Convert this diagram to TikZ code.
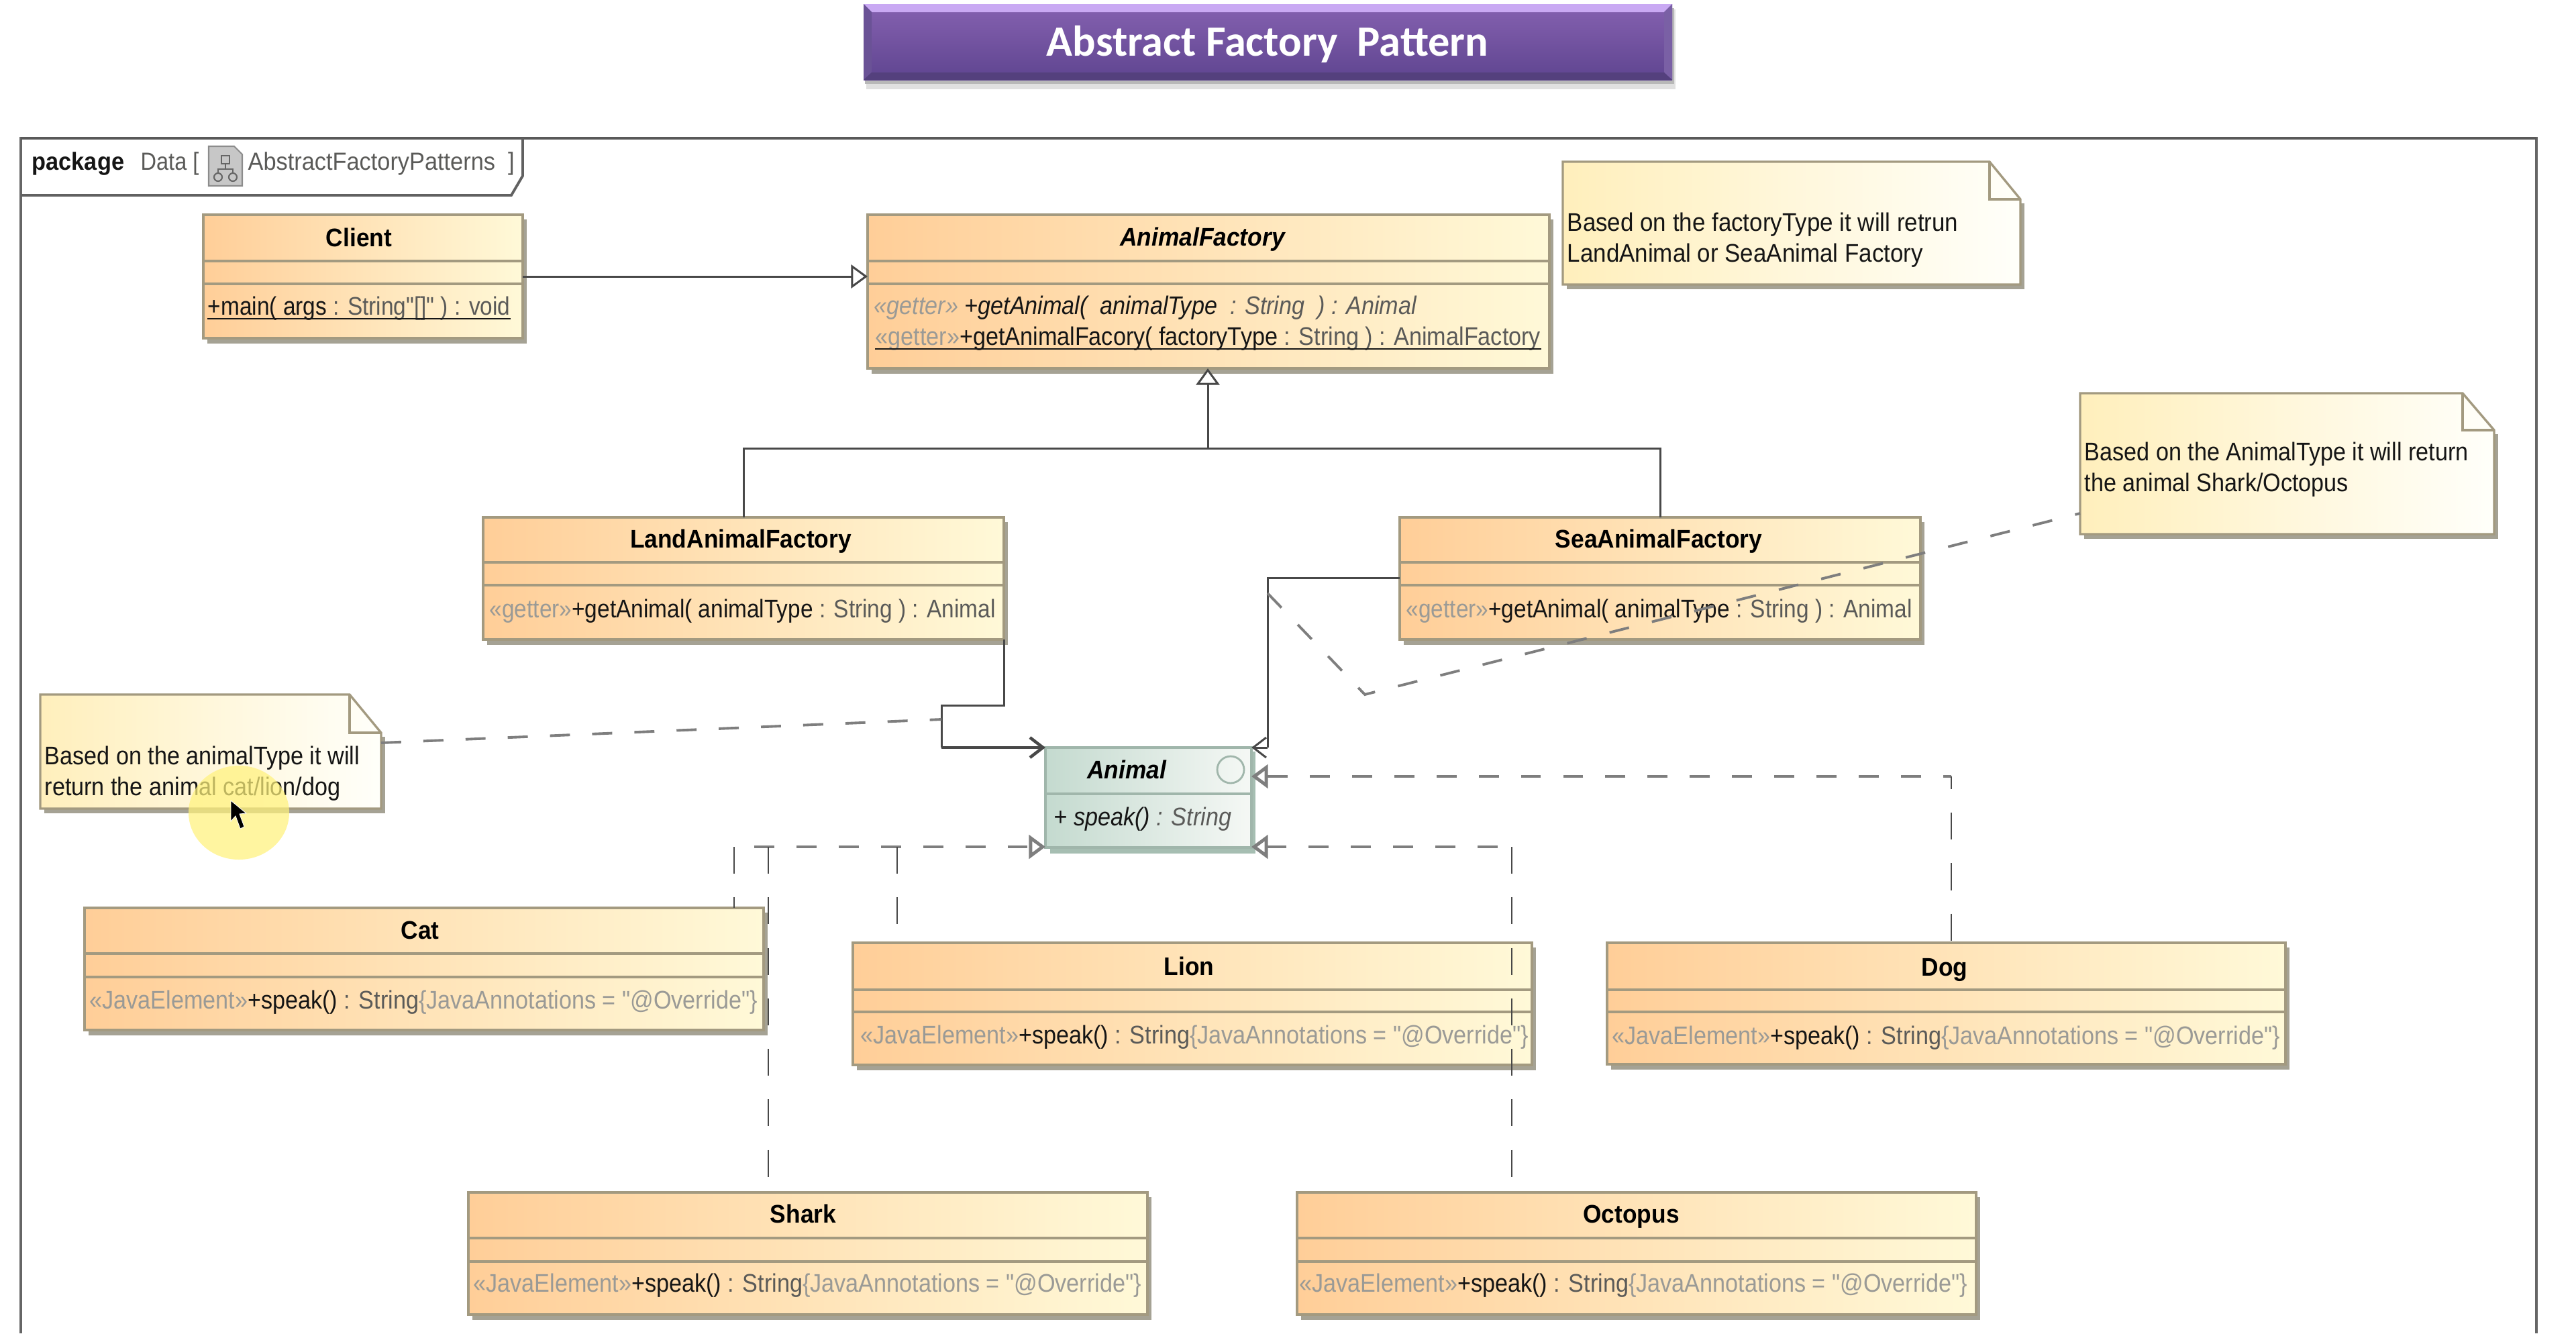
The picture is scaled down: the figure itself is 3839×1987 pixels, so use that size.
\documentclass[tikz,border=0pt]{standalone}
\usepackage{fontspec}
\usetikzlibrary{arrows.meta}
\newfontfamily\umlsans[FakeStretch=0.88]{Liberation Sans}
\newfontfamily\umlwide[FakeStretch=0.90]{Liberation Sans}
\newfontfamily\umlnotea[FakeStretch=0.92]{Liberation Sans}
\newfontfamily\umlpkg[FakeStretch=0.93]{Liberation Sans}
\newfontfamily\umlbold[FakeStretch=0.93]{Liberation Sans}
\newfontfamily\titlefont{Carlito}
\definecolor{orl}{HTML}{FFCE98}
\definecolor{orr}{HTML}{FFF9D8}
\definecolor{notel}{HTML}{FFEFBC}
\definecolor{noter}{HTML}{FFFFFA}
\definecolor{boxline}{HTML}{A39A80}
\definecolor{boxshadow}{HTML}{A5A294}
\definecolor{connc}{HTML}{484848}
\definecolor{dashc}{HTML}{7E7E7E}
\definecolor{ugray}{HTML}{9A9A96}
\definecolor{umid}{HTML}{5A5A58}
\definecolor{udark}{HTML}{151515}
\definecolor{ifl}{HTML}{C4DACF}
\definecolor{ifr}{HTML}{F5F8F5}
\definecolor{ifline}{HTML}{A0B6AB}
\definecolor{ifshadow}{HTML}{A6BEB2}
\definecolor{bartop}{HTML}{8561B0}
\definecolor{barbot}{HTML}{5F4590}
\definecolor{barhi}{HTML}{C9A9F3}
\definecolor{barleft}{HTML}{6A5296}
\definecolor{barright}{HTML}{7A60A5}
\definecolor{barlow}{HTML}{54407D}
\definecolor{spot}{HTML}{FFF27C}
\newcommand\ugr[1]{\textcolor{ugray}{#1}}
\newcommand\umd[1]{\textcolor{umid}{#1}}
\newcommand\udk[1]{\textcolor{udark}{#1}}
\tikzset{
  x=0.01cm,y=-0.01cm,
  classbox/.style={rectangle,draw=boxline,line width=0.95pt,left color=orl,right color=orr,anchor=north west,inner sep=0pt,outer sep=0pt},
  ifacebox/.style={rectangle,draw=ifline,line width=1.1pt,left color=ifl,right color=ifr,anchor=north west,inner sep=0pt,outer sep=0pt},
  divider/.style={draw=boxline,line width=0.95pt},
  shadowfill/.style={fill=boxshadow},
  notebox/.style={draw=boxline,line width=0.95pt,left color=notel,right color=noter},
  titletext/.style={anchor=base,inner sep=0pt,font=\umlbold\fontsize{10.8}{13.1}\selectfont\bfseries,text=black},
  rowtext/.style={anchor=base west,inner sep=0pt,font=\umlsans\fontsize{10.8}{13.1}\selectfont},
  widerow/.style={anchor=base west,inner sep=0pt,font=\umlwide\fontsize{10.8}{13.1}\selectfont},
  notetext/.style={anchor=west,align=left,inner sep=0pt,font=\umlwide\fontsize{10.8}{13.1}\selectfont,text=udark},
  solidconn/.style={draw=connc,line width=0.85pt},
  hdash/.style={draw=dashc,line width=1.4pt,dash pattern=on 8.5pt off 9.4pt},
  vdash/.style={draw=connc,line width=0.7pt,dash pattern=on 11.4pt off 10pt},
  ddash/.style={draw=dashc,line width=1.1pt,dash pattern=on 8.5pt off 9.4pt},
  underl/.style={draw=udark,line width=0.6pt},
  hollow/.style={-{Triangle[open,fill=white,length=7pt,width=10pt]}},
  openhead/.style={-{Straight Barb[length=5.5pt,width=8.5pt]}},
}
\newcommand\umlclass[7]{%
  \fill[shadowfill] (#2+6,#3+7) rectangle (#4+6,#5+8);
  \node[classbox,minimum width={(#4-#2)*0.01cm},minimum height={(#5-#3)*0.01cm}] (#1) at (#2,#3) {};
  \draw[divider] (#2,#6) -- (#4,#6);
  \draw[divider] (#2,#7) -- (#4,#7);
}
\newcommand\umlname[4]{\node[titletext] (#1) at (#2,#3+13) {#4};}
\newcommand\umlrow[4]{\node[rowtext] (#1) at (#2,#3+13) {#4};}
\newcommand\umlwrow[4]{\node[widerow] (#1) at (#2,#3+13) {#4};}
\newcommand\speakrow{\ugr{«JavaElement»}\udk{+speak()}\umd{\ : String}\ugr{\{JavaAnnotations = "@Override"\}}}
\newcommand\getterrow{\ugr{«getter»}\udk{+getAnimal( animalType}\umd{\ : String ) : Animal}}
\begin{document}
\begin{tikzpicture}
\useasboundingbox (0,0) rectangle (3839,1987);
\fill[white] (0,0) rectangle (3839,1987);

% title bar
\fill[black!12] (1291,14) rectangle (2497,133);
\fill[black!28] (1289,12) rectangle (2495,125);
\shade[top color=bartop,bottom color=barbot] (1287,6) rectangle (2492,119);
\fill[barhi] (1287,6) -- (2492,6) -- (2480,18) -- (1299,18) -- cycle;
\fill[barleft] (1287,6) -- (1299,18) -- (1299,108) -- (1287,119) -- cycle;
\fill[barright] (2492,6) -- (2480,18) -- (2480,108) -- (2492,119) -- cycle;
\fill[barlow] (1287,119) -- (1299,108) -- (2480,108) -- (2492,119) -- cycle;
\node[anchor=base,inner sep=0pt,text=white,font=\titlefont\fontsize{18.3}{20}\selectfont\bfseries] (titlebar) at (1889,83) {Abstract Factory\ \ Pattern};

% package frame
\draw[draw=black!60,line width=0.9pt] (31,1987) -- (31,206) -- (3780,206) -- (3780,1987);
\draw[draw=black!65,line width=1.3pt] (31,206) -- (3780,206);
\draw[draw=black!62,line width=1.1pt] (31,291) -- (762,291) -- (779,262) -- (779,206);
\node[anchor=base west,inner sep=0pt,font=\umlbold\fontsize{10.5}{13}\selectfont\bfseries,text=udark] (pkgword) at (47,253) {package};
\node[anchor=base west,inner sep=0pt,font=\umlsans\fontsize{10.5}{13}\selectfont,text=umid] (pkgdata) at (209,253) {Data [};
\node[anchor=base west,inner sep=0pt,font=\umlpkg\fontsize{10.5}{13}\selectfont,text=umid] (pkgname) at (369,253) {AbstractFactoryPatterns\ \ ]};
% diagram icon
\fill[black!22,draw=black!45,line width=0.6pt] (311,218) -- (349,218) -- (361,230) -- (361,277) -- (311,277) -- cycle;
\draw[black!60,line width=0.6pt] (336,244) -- (336,252) (325,258) -- (325,252) -- (347,252) -- (347,258);
\draw[black!60,line width=0.6pt] (330,232) rectangle (342,244);
\draw[black!60,line width=0.6pt] (325,264) circle (6) (347,264) circle (6);

% notes
\fill[shadowfill] (2335,431) rectangle (3017,303);
\path[notebox] (2329,241) -- (2965,241) -- (3011,297) -- (3011,424) -- (2329,424) -- cycle;
\draw[boxline,line width=0.95pt] (2965,241) -- (2965,297) -- (3011,297);
\node[notetext,font=\umlnotea\fontsize{10.8}{13.1}\selectfont] (note1) at (2335,358) {Based on the factoryType it will retrun\\LandAnimal or SeaAnimal Factory};

\fill[shadowfill] (3106,803) rectangle (3723,647);
\path[notebox] (3100,586) -- (3670,586) -- (3717,641) -- (3717,796) -- (3100,796) -- cycle;
\draw[boxline,line width=0.95pt] (3670,586) -- (3670,641) -- (3717,641);
\node[notetext] (note2) at (3106,700) {Based on the AnimalType it will return\\the animal Shark/Octopus};

\fill[shadowfill] (66,1212) rectangle (574,1098);
\path[notebox] (60,1035) -- (521,1035) -- (568,1092) -- (568,1205) -- (60,1205) -- cycle;
\draw[boxline,line width=0.95pt] (521,1035) -- (521,1092) -- (568,1092);
\node[notetext] (note3) at (66,1153) {Based on the animalType it will\\return the animal cat/lion/dog};

% classes
\umlclass{client}{303}{320}{779}{504}{389}{423}
\umlname{clientn}{535}{354}{Client}
\umlrow{clientr}{309}{456}{\udk{+main( args}\umd{\ : String"[]" ) : void}}

\umlclass{afac}{1293}{320}{2309}{549}{389}{423}
\umlname{afacn}{1792}{353}{\itshape AnimalFactory}
\umlwrow{afacr}{1302}{455}{\itshape\ugr{«getter»}\udk{\ +getAnimal(\ \ animalType}\umd{\ \ : String\ \ ) : Animal}}
\umlwrow{afacs}{1304}{501}{\ugr{«getter»}\udk{+getAnimalFacory( factoryType}\umd{\ : String ) : AnimalFactory}}

\umlclass{land}{720}{771}{1496}{953}{838}{872}
\umlname{landn}{1104}{803}{LandAnimalFactory}
\umlrow{landr}{729}{907}{\getterrow}

\umlclass{sea}{2086}{771}{2862}{953}{838}{872}
\umlname{sean}{2472}{803}{SeaAnimalFactory}
\umlrow{sear}{2095}{907}{\getterrow}

\umlclass{cat}{126}{1353}{1138}{1535}{1421}{1456}
\umlname{catn}{626}{1386}{Cat}
\umlwrow{catr}{133}{1490}{\speakrow}

\umlclass{lion}{1271}{1405}{2283}{1587}{1475}{1508}
\umlname{lionn}{1772}{1440}{Lion}
\umlwrow{lionr}{1282}{1542}{\speakrow}

\umlclass{dog}{2395}{1405}{3406}{1586}{1475}{1508}
\umlname{dogn}{2898}{1441}{Dog}
\umlwrow{dogr}{2402}{1543}{\speakrow}

\umlclass{shark}{698}{1777}{1710}{1959}{1845}{1880}
\umlname{sharkn}{1197}{1809}{Shark}
\umlwrow{sharkr}{705}{1912}{\speakrow}

\umlclass{octo}{1933}{1777}{2945}{1959}{1845}{1880}
\umlname{octon}{2431}{1809}{Octopus}
\umlwrow{octor}{1936}{1912}{\speakrow}

% underlined operations
\draw[underl] ([yshift=-1.7pt]clientr.base west) -- ([yshift=-1.7pt]clientr.base east);
\draw[underl] ([yshift=-1.7pt]afacs.base west) -- ([yshift=-1.7pt]afacs.base east);

% interface
\fill[fill=ifshadow] (1565,1120) rectangle (1871,1272);
\node[ifacebox,minimum width=3.07cm,minimum height=1.49cm] (animal) at (1558,1114) {};
\draw[ifline,line width=1pt] (1558,1183) -- (1865,1183);
\draw[ifline,line width=0.8pt] (1834,1147) circle (20);
\umlname{animaln}{1679}{1147}{\itshape Animal}
\umlwrow{animalr}{1570}{1217}{\itshape\udk{+ speak()}\umd{\ : String}}

% connector bend points
\coordinate (landbendA) at (1496,1051);
\coordinate (landbendB) at (1403,1051);
\coordinate (landbendC) at (1403,1114);
\coordinate (seabendA) at (1889,861);
\coordinate (seabendB) at (1889,1114);
\coordinate (gentrunk) at (1800,668);
\coordinate (catcorner) at (1094,1262);
\coordinate (sharkcorner) at (1145,1262);
\coordinate (lioncorner) at (1337,1262);
\coordinate (octocorner) at (2253,1262);
\coordinate (dogcorner) at (2908,1157);
\coordinate (leftarrow) at (1558,1262);
\coordinate (rightarrow) at (1865,1262);
\coordinate (dogarrow) at (1865,1157);
\coordinate (n3out) at (568,1107);
\coordinate (n3in) at (1403,1072);
\coordinate (n2out) at (3100,765);
\coordinate (n2kink) at (2034,1035);
\coordinate (n2end) at (1889,884);

% solid connectors
\draw[solidconn,hollow] (client.east) -- (client.east -| afac.west);
\draw[solidconn,hollow] (gentrunk) -- (gentrunk |- afac.south);
\draw[solidconn] (land.north) |- (gentrunk) -| (sea.north);
\draw[solidconn] (land.south east) -- (landbendA) -- (landbendB) -- (landbendC);
\draw[solidconn,line width=1.3pt,openhead] (landbendC) -- (animal.north west);
\draw[solidconn] (sea.west |- seabendA) -- (seabendA) -- (seabendB);
\draw[solidconn,openhead] (seabendB) -- (animal.north east);

% realisations
\draw[hdash,dash phase=9.4pt,hollow] (catcorner) -- (leftarrow);
\draw[hdash,dash phase=11.95pt,hollow] (octocorner) -- (rightarrow);
\draw[hdash,dash phase=5.1pt,hollow] (dogcorner) -- (dogarrow);
\draw[vdash] (catcorner) -- (catcorner |- cat.north);
\draw[vdash] (sharkcorner) -- (sharkcorner |- shark.north);
\draw[vdash] (lioncorner) -- (lioncorner |- lion.north);
\draw[vdash] (octocorner) -- (octocorner |- octo.north);
\draw[vdash,dash phase=6pt] (dogcorner) -- (dogcorner |- dog.north);

% note anchors
\draw[ddash] (n3out) -- (n3in);
\draw[ddash,dash pattern=on 8.5pt off 10pt] (n2end) -- (n2kink) -- (n2out);

% pointer highlight
\fill[spot,opacity=0.72] (356,1211) ellipse (75 and 70);
\fill[black,draw=white,line width=0.25pt] (344,1193) -- (344,1224) -- (351,1216) -- (358,1235) -- (364,1232) -- (357,1213) -- (367,1212) -- cycle;
\end{tikzpicture}
\end{document}
